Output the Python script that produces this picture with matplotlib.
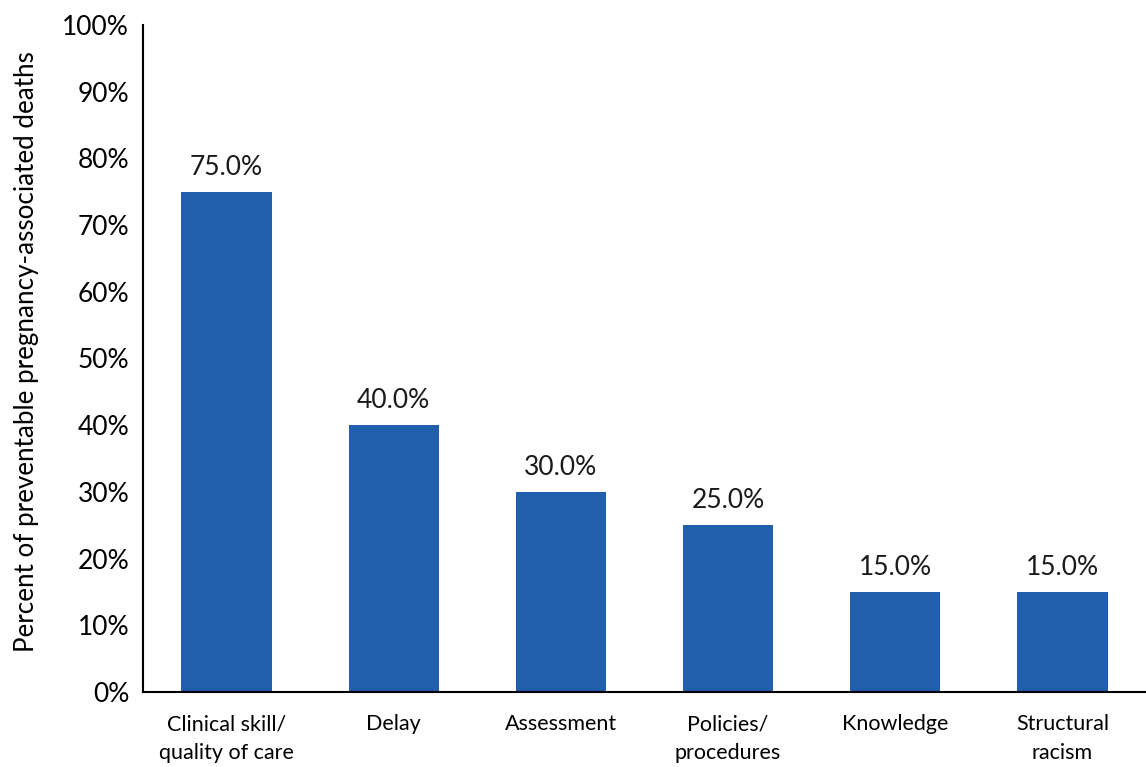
import matplotlib
matplotlib.use("Agg")
import matplotlib.pyplot as plt
from matplotlib.ticker import MultipleLocator, PercentFormatter

categories = ["Clinical skill/\nquality of care", "Delay", "Assessment",
              "Policies/\nprocedures", "Knowledge", "Structural\nracism"]
values = [75.0, 40.0, 30.0, 25.0, 15.0, 15.0]

plt.rcParams["font.family"] = ["Lato", "DejaVu Sans"]

fig = plt.figure(figsize=(11.46, 7.67), dpi=100)
ax = fig.add_axes([0.1248, 0.0978, 0.8752, 0.8696])

x = range(len(categories))
bars = ax.bar(x, values, width=0.54, color="#215EAB")

for b, v in zip(bars, values):
    ax.text(b.get_x() + b.get_width() / 2, v + 1.8, f"{v:.1f}%",
            ha="center", va="bottom", fontsize=19, color="#1a1a1a")

ax.set_xlim(-0.5, 5.5)
ax.set_ylim(0, 100)
ax.yaxis.set_major_locator(MultipleLocator(10))
ax.yaxis.set_major_formatter(PercentFormatter(decimals=0))
ax.set_xticks(list(x))
ax.set_xticklabels(categories, fontsize=15.5, linespacing=1.55)
ax.tick_params(axis="y", labelsize=19, length=0, pad=10)
ax.tick_params(axis="x", length=0, pad=16)
ax.set_ylabel("Percent of preventable pregnancy-associated deaths",
              fontsize=18.7, labelpad=17, y=0.51)

for s in ["top", "right"]:
    ax.spines[s].set_visible(False)
ax.spines["left"].set_linewidth(1.5)
ax.spines["bottom"].set_linewidth(1.5)

fig.savefig("out.png", dpi=100)
